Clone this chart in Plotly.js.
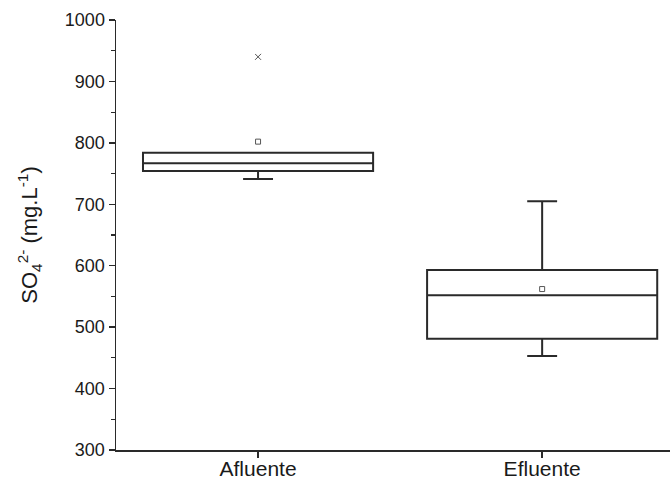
<!DOCTYPE html>
<html>
<head>
<meta charset="utf-8">
<script src="https://cdn.plot.ly/plotly-3.0.1.min.js"></script>
<style>html,body{margin:0;padding:0;background:#fff;}#chart{width:670px;height:487px;}</style>
</head>
<body>
<div id="chart"></div>
<script>
const categories = ["Afluente", "Efluente"];
const q1 = [754, 481];
const median = [767, 552];
const q3 = [784, 593];
const lowerWhisker = [741, 453];
const upperWhisker = [784, 705];
const meanValues = [802, 562];
const outlierCategories = ["Afluente"];
const outlierValues = [940];

const lineColor = "#2a2a2a";

const boxTrace = {
  type: "box",
  x: categories,
  q1: q1,
  median: median,
  q3: q3,
  lowerfence: lowerWhisker,
  upperfence: upperWhisker,
  boxpoints: false,
  width: 0.81,
  whiskerwidth: 0.13,
  fillcolor: "rgba(0,0,0,0)",
  line: {color: lineColor, width: 2},
  hoverinfo: "skip",
  showlegend: false
};

const meanTrace = {
  type: "scatter",
  mode: "markers",
  x: categories,
  y: meanValues,
  marker: {symbol: "square-open", size: 5, color: "#555", line: {width: 1, color: "#555"}},
  showlegend: false,
  hoverinfo: "skip"
};

const outlierTrace = {
  type: "scatter",
  mode: "markers",
  x: outlierCategories,
  y: outlierValues,
  marker: {symbol: "x-thin-open", size: 6, color: "#555", line: {width: 1, color: "#555"}},
  showlegend: false,
  hoverinfo: "skip"
};

const layout = {
  width: 670,
  height: 487,
  margin: {l: 116, r: 0, t: 20, b: 37},
  paper_bgcolor: "#fff",
  plot_bgcolor: "#fff",
  font: {family: "Liberation Sans, Arial, sans-serif", size: 18, color: "#1a1a1a"},
  xaxis: {
    type: "category",
    range: [-0.5, 1.45],
    showline: true,
    linecolor: lineColor,
    linewidth: 1.5,
    ticks: "outside",
    ticklen: 6,
    tickwidth: 1.5,
    tickcolor: lineColor,
    showgrid: false,
    zeroline: false,
    ticklabelstandoff: -7,
    tickfont: {size: 21}
  },
  yaxis: {
    range: [300, 1000],
    dtick: 100,
    showline: true,
    linecolor: lineColor,
    linewidth: 1.5,
    ticks: "outside",
    ticklen: 6,
    tickwidth: 1.5,
    tickcolor: lineColor,
    showgrid: false,
    zeroline: false,
    tickfont: {size: 18},
    minor: {dtick: 50, ticks: "outside", ticklen: 4, tickwidth: 1.2, tickcolor: lineColor, showgrid: false},
    title: {
      text: "SO<sub>4</sub><sup>2-</sup> (mg.L<sup>-1</sup>)",
      font: {size: 22},
      standoff: 21
    }
  },
  showlegend: false
};

Plotly.newPlot("chart", [boxTrace, meanTrace, outlierTrace], layout, {displayModeBar: false, staticPlot: true});
</script>
</body>
</html>
